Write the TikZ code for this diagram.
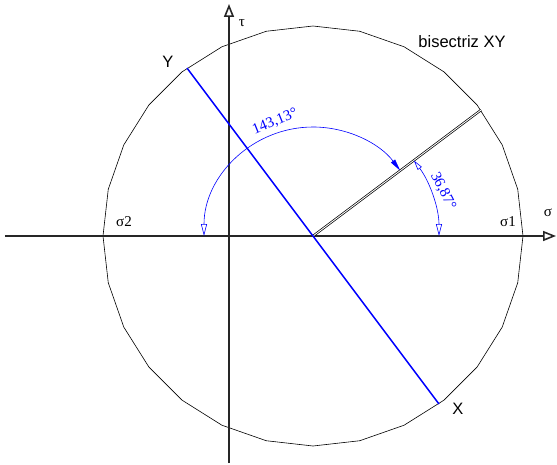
\documentclass[tikz,border=0pt]{standalone}
\usepackage{fontspec}
\setmainfont{Liberation Sans}
\newfontfamily\greekfont{Liberation Serif}
\usepackage{tikz}
\usetikzlibrary{arrows.meta, calc}
\tikzset{
  % Mohr circle styles
  axis/.style={line width=2pt, draw=black!85, -{Triangle[open, length=13pt, width=10pt, line width=1.6pt]}},
  mohr/.style={draw=black, line width=0.6pt},
  pole/.style={draw=blue, line width=1.5pt},
  bisect/.style={draw=black, double=white, double distance=0.9pt, line width=0.7pt},
  anglearc/.style={draw=blue, line width=0.6pt},
  sanslabel/.style={font=\fontsize{16.5}{19}\selectfont, inner sep=1pt},
  seriflabel/.style={font=\greekfont\fontsize{15}{18}\selectfont, inner sep=1pt},
  anglelabel/.style={font=\greekfont\fontsize{15}{18}\selectfont, text=blue, inner sep=0pt},
}

\begin{document}
\begin{tikzpicture}[x=1pt, y=1pt]
    \useasboundingbox (-313,-228) rectangle (244,236);

    % Points
    \coordinate (O) at (0,0);
    \coordinate (Y) at (126.87:210);
    \coordinate (X) at (-53.13:210);
    \coordinate (B) at (36.87:210);
    \coordinate (hleft) at (-308,0);
    \coordinate (hright) at (243,0);
    \coordinate (vbot) at (-84,-227);
    \coordinate (vtop) at (-84,232);

    % Circle
    \draw[mohr] (0:210) \foreach \k in {1,...,27} { -- (\k*360/28:210) } -- cycle;

    % Axes
    \draw[axis] (hleft) -- (hright);
    \draw[axis] (vbot) -- (vtop);

    % Bisector and XY
    \draw[bisect] (O) -- (B);
    \draw[pole] (Y) -- (X);

    % Angles
    \coordinate (a1s) at (180:109);
    \coordinate (a2s) at (0:126);
    \draw[anglearc, {Triangle[open, length=12pt, width=6pt]}-{Triangle[length=12pt, width=5pt]}]
      (a1s) arc[start angle=180, end angle=36.87, radius=109pt];
    \draw[anglearc, {Triangle[open, length=12pt, width=6pt]}-{Triangle[open, length=10pt, width=5pt]}]
      (a2s) arc[start angle=0, end angle=36.87, radius=126pt];
    \node[anglelabel, rotate=22] (big) at (-38,114) {143,13°};
    \node[anglelabel, rotate=-63] (small) at (130,45) {36,87°};

    % Labels
    \node[seriflabel] (tau) at (-71,213) {τ};
    \node[seriflabel] (sig) at (235,23) {σ};
    \node[seriflabel] (s1) at (195,14) {σ1};
    \node[seriflabel] (s2) at (-189,14) {σ2};
    \node[sanslabel] (ylab) at (-145,174) {Y};
    \node[sanslabel] (xlab) at (145,-173) {X};
    \node[sanslabel] (bis) at (149,194) {bisectriz XY};
\end{tikzpicture}
\end{document}
